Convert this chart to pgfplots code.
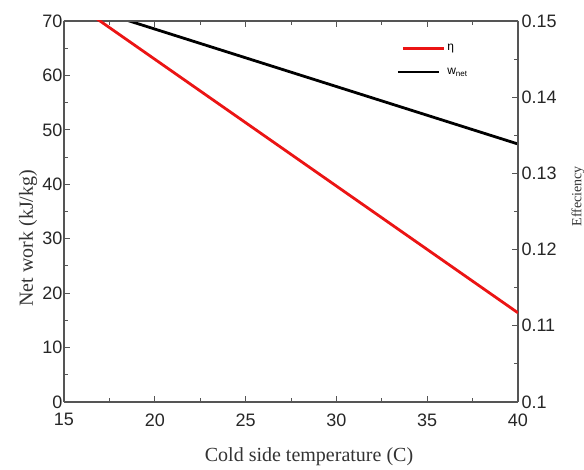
\documentclass[border=0pt]{standalone}
\usepackage{fontspec}
\setmainfont{Liberation Serif}
\newfontfamily\arial{Liberation Sans}
\usepackage{pgfplots}
\pgfplotsset{compat=1.18}

\definecolor{frame}{RGB}{85,85,85}
\definecolor{etared}{RGB}{235,20,20}

\pgfplotsset{
  common/.style={
    scale only axis, width=454pt, height=381pt,
    at={(0,0)}, anchor=south west,
    xmin=15, xmax=40,
    tick align=inside,
    major tick length=6pt, minor tick length=4pt,
    axis line style={frame, line width=1.2pt},
    every tick/.style={frame, line width=1pt},
    tick label style={font=\arial\fontsize{18}{20}\selectfont, text=black!85},
    /pgf/number format/assume math mode=true,
  },
  legshort/.style={legend image code/.code={\draw[##1] (0pt,0pt) -- (41pt,0pt);}},
  leglong/.style={legend image code/.code={\draw[##1] (5pt,0pt) -- (46pt,0pt);}},
}

\begin{document}
\begin{tikzpicture}
\path[use as bounding box] (-64pt,-68pt) rectangle (520pt,402pt);

% net work on the left axis
\begin{axis}[common,
  axis y line*=left,
  ymin=0, ymax=70,
  xtick={15,20,...,40}, minor xtick={17.5,22.5,...,37.5},
  ytick={0,10,...,70}, minor ytick={5,15,...,65},
  xticklabel style={yshift=-8pt},
  yticklabel style={inner sep=1.5pt},
  xlabel={Cold side temperature (C)},
  ylabel={Net work (kJ/kg)},
  label style={font=\fontsize{20}{22}\selectfont, text=black!80},
  xlabel style={yshift=-14pt, xshift=18pt},
  ylabel style={at={(ticklabel cs:0.43)}, yshift=0pt},
  clip=true,
  legend style={draw=none, fill=none, at={(rel axis cs:0.732,0.945)}, anchor=north west,
    font=\arial\fontsize{12}{13}\selectfont, row sep=12pt, inner sep=0pt,
    /tikz/every even column/.append style={column sep=2pt}},
  legend cell align=left,
]
\addlegendimage{etared, line width=2.8pt, leglong}
\addlegendentry{η}
\addplot[black, line width=2.8pt, legshort]
  coordinates {(15,73.8) (40,47.4)};
\addlegendentry{w\textsubscript{net}}
\end{axis}

% efficiency on the right axis
\begin{axis}[common,
  axis y line*=right, axis x line*=top,
  ymin=0.1, ymax=0.15,
  xtick={15,20,...,40}, minor xtick={17.5,22.5,...,37.5},
  xticklabels={},
  ytick={0.1,0.11,...,0.15}, minor ytick={0.105,0.115,...,0.145},
  yticklabel style={/pgf/number format/fixed, /pgf/number format/precision=2},
  ylabel={Effeciency},
  ylabel style={font=\fontsize{14}{15}\selectfont, text=black!80,
    at={(ticklabel cs:0.54)}, yshift=-8pt},
  clip=true,
]
\addplot[etared, line width=2.8pt] coordinates {(15,0.1533) (40,0.1117)};
\end{axis}
\end{tikzpicture}
\end{document}
